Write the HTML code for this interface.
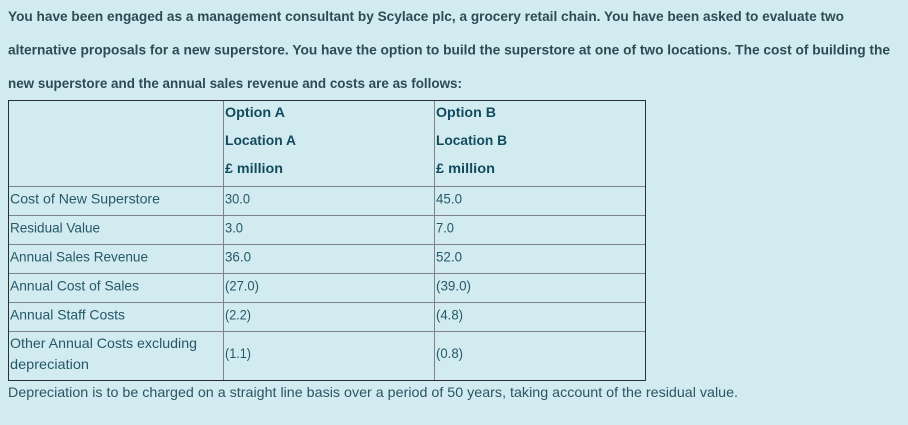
<!DOCTYPE html>
<html>
<head>
<meta charset="utf-8">
<style>
html,body{margin:0;padding:0;background:#d2ebf0;}
svg{display:block;}
text{font-family:"Liberation Sans",sans-serif;}
.p{font-size:14px;font-weight:bold;fill:#2d4b55;}
.h{font-size:14px;font-weight:bold;fill:#124b5d;}
.b{font-size:14px;fill:#245968;}
.f{font-size:14px;fill:#2a5563;}
</style>
</head>
<body>
<svg width="908" height="425" viewBox="0 0 908 425" xmlns="http://www.w3.org/2000/svg">
<rect x="0" y="0" width="908" height="425" fill="#d2ebf0"/>

<text class="p" x="8" y="21" textLength="836" lengthAdjust="spacingAndGlyphs">You have been engaged as a management consultant by Scylace plc, a grocery retail chain. You have been asked to evaluate two</text>
<text class="p" x="8" y="54.5" textLength="882" lengthAdjust="spacingAndGlyphs">alternative proposals for a new superstore. You have the option to build the superstore at one of two locations. The cost of building the</text>
<text class="p" x="8" y="88" textLength="454" lengthAdjust="spacingAndGlyphs">new superstore and the annual sales revenue and costs are as follows:</text>

<!-- inner lines -->
<g stroke="#7f8385" stroke-width="1" fill="none">
<line x1="8" y1="186.5" x2="646" y2="186.5"/>
<line x1="8" y1="215.5" x2="646" y2="215.5"/>
<line x1="8" y1="244.5" x2="646" y2="244.5"/>
<line x1="8" y1="273.5" x2="646" y2="273.5"/>
<line x1="8" y1="302.5" x2="646" y2="302.5"/>
<line x1="8" y1="331.5" x2="646" y2="331.5"/>
<line x1="223.5" y1="100" x2="223.5" y2="381"/>
<line x1="434.5" y1="100" x2="434.5" y2="381"/>
</g>
<!-- outer border -->
<rect x="8.5" y="100.5" width="637" height="280" fill="none" stroke="#2b2f31" stroke-width="1"/>

<!-- header -->
<text class="h" x="225" y="117" textLength="60" lengthAdjust="spacingAndGlyphs">Option A</text>
<text class="h" x="225" y="145" textLength="71" lengthAdjust="spacingAndGlyphs">Location A</text>
<text class="h" x="225" y="173" textLength="58" lengthAdjust="spacingAndGlyphs">£ million</text>
<text class="h" x="436" y="117" textLength="60" lengthAdjust="spacingAndGlyphs">Option B</text>
<text class="h" x="436" y="145" textLength="71" lengthAdjust="spacingAndGlyphs">Location B</text>
<text class="h" x="436" y="173" textLength="59" lengthAdjust="spacingAndGlyphs">£ million</text>

<!-- rows -->
<text class="b" x="10" y="203.3" textLength="150" lengthAdjust="spacingAndGlyphs">Cost of New Superstore</text>
<text class="b" x="225" y="203.3" textLength="25" lengthAdjust="spacingAndGlyphs">30.0</text>
<text class="b" x="436" y="203.3" textLength="26" lengthAdjust="spacingAndGlyphs">45.0</text>

<text class="b" x="10" y="232.3" textLength="90" lengthAdjust="spacingAndGlyphs">Residual Value</text>
<text class="b" x="225" y="232.3" textLength="18" lengthAdjust="spacingAndGlyphs">3.0</text>
<text class="b" x="436" y="232.3" textLength="18" lengthAdjust="spacingAndGlyphs">7.0</text>

<text class="b" x="10" y="261.3" textLength="138" lengthAdjust="spacingAndGlyphs">Annual Sales Revenue</text>
<text class="b" x="225" y="261.3" textLength="26" lengthAdjust="spacingAndGlyphs">36.0</text>
<text class="b" x="436" y="261.3" textLength="26" lengthAdjust="spacingAndGlyphs">52.0</text>

<text class="b" x="10" y="290.3" textLength="129" lengthAdjust="spacingAndGlyphs">Annual Cost of Sales</text>
<text class="b" x="225" y="290.3" textLength="34" lengthAdjust="spacingAndGlyphs">(27.0)</text>
<text class="b" x="436" y="290.3" textLength="35" lengthAdjust="spacingAndGlyphs">(39.0)</text>

<text class="b" x="10" y="319.3" textLength="115" lengthAdjust="spacingAndGlyphs">Annual Staff Costs</text>
<text class="b" x="225" y="319.3" textLength="26" lengthAdjust="spacingAndGlyphs">(2.2)</text>
<text class="b" x="436" y="319.3" textLength="27" lengthAdjust="spacingAndGlyphs">(4.8)</text>

<text class="b" x="10" y="348" textLength="187" lengthAdjust="spacingAndGlyphs">Other Annual Costs excluding</text>
<text class="b" x="10" y="369" textLength="79" lengthAdjust="spacingAndGlyphs">depreciation</text>
<text class="b" x="225" y="358" textLength="26" lengthAdjust="spacingAndGlyphs">(1.1)</text>
<text class="b" x="436" y="358" textLength="27" lengthAdjust="spacingAndGlyphs">(0.8)</text>

<text class="f" x="8" y="397" textLength="730" lengthAdjust="spacingAndGlyphs">Depreciation is to be charged on a straight line basis over a period of 50 years, taking account of the residual value.</text>
</svg>
</body>
</html>
